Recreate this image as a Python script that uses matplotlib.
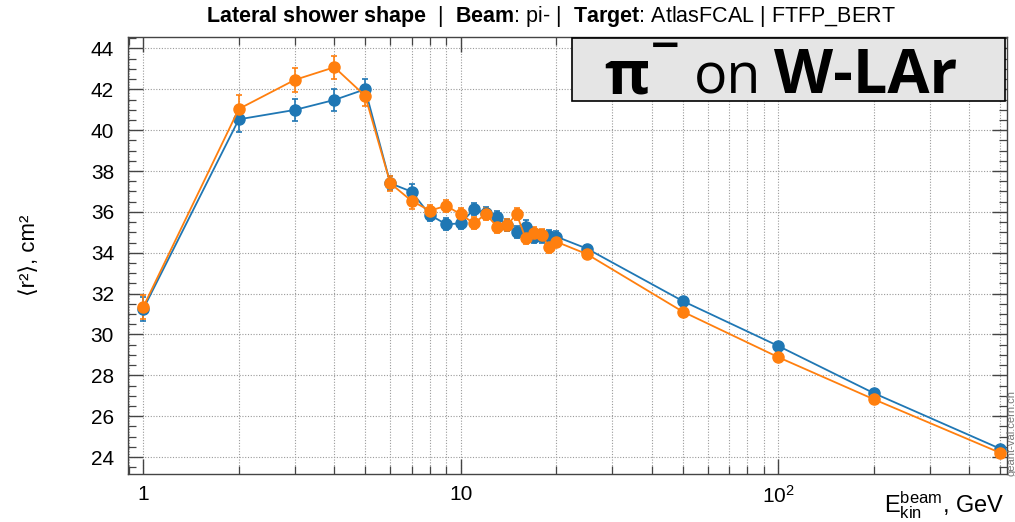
import numpy as np
import matplotlib.pyplot as plt
from matplotlib.ticker import FixedLocator, MultipleLocator, LogLocator, NullFormatter

plt.rcParams['font.family'] = ['Liberation Sans', 'DejaVu Sans']
plt.rcParams['mathtext.fontset'] = 'custom'
plt.rcParams['mathtext.rm'] = 'Liberation Sans'
plt.rcParams['mathtext.bf'] = 'Liberation Sans:bold'
plt.rcParams['mathtext.it'] = 'Liberation Sans:italic'

# beam kinetic energy, GeV
energy = [1, 2, 3, 4, 5, 6, 7, 8, 9, 10, 11, 12, 13, 14, 15, 16, 17, 18, 19, 20,
          25, 50, 100, 200, 500]

# <r^2> in cm^2, two model versions
r2_blue = [31.25, 40.53, 40.99, 41.48, 42.00, 37.40, 36.99, 35.85, 35.39, 35.44,
           36.13, 35.95, 35.74, 35.35, 35.03, 35.28, 34.79, 34.80, 34.82, 34.79,
           34.20, 31.64, 29.44, 27.13, 24.41]
err_blue = [0.6, 0.6, 0.55, 0.52, 0.5, 0.35, 0.36, 0.3, 0.3, 0.3,
            0.3, 0.3, 0.3, 0.3, 0.3, 0.3, 0.3, 0.3, 0.3, 0.25,
            0.2, 0.08, 0.06, 0.05, 0.05]

r2_orange = [31.35, 41.04, 42.46, 43.08, 41.68, 37.40, 36.54, 36.06, 36.30, 35.88,
             35.44, 35.90, 35.28, 35.35, 35.90, 34.71, 34.95, 34.87, 34.27, 34.54,
             33.93, 31.12, 28.89, 26.83, 24.21]
err_orange = [0.6, 0.68, 0.57, 0.56, 0.52, 0.36, 0.39, 0.3, 0.3, 0.3,
              0.3, 0.3, 0.3, 0.3, 0.3, 0.3, 0.3, 0.3, 0.3, 0.25,
              0.2, 0.08, 0.06, 0.05, 0.05]

W, H = 1015, 522
L, R, T, B = 128, 1007, 37, 474

fig = plt.figure(figsize=(W / 100, H / 100), dpi=100)
ax = fig.add_axes([L / W, (H - B) / H, (R - L) / W, (B - T) / H])


def frac(x, y):
    # pixel position in the frame -> axes fraction
    return (x - L) / (R - L), (B - y) / (B - T)


for y, e, c in [(r2_blue, err_blue, '#1f77b4'), (r2_orange, err_orange, '#ff7f0e')]:
    ax.errorbar(energy, y, yerr=e, color=c, marker='o', ms=8, lw=1.3,
                elinewidth=1.2, capsize=2.5, capthick=1.2, zorder=3)

ax.set_xscale('log')
ax.set_xlim(0.895, 526)
ax.set_ylim(23.17, 44.56)

ax.xaxis.set_major_locator(FixedLocator([1, 10, 100]))
ax.set_xticklabels(['1', '10', r'$\mathrm{10^{2}}$'])
ax.xaxis.set_minor_locator(LogLocator(base=10, subs=np.arange(2, 10)))
ax.xaxis.set_minor_formatter(NullFormatter())
ax.yaxis.set_major_locator(MultipleLocator(2))
ax.yaxis.set_minor_locator(MultipleLocator(0.5))

ax.tick_params(which='both', direction='in', top=True, right=True,
               color='#444444', labelsize=15)
ax.tick_params(which='major', length=11, width=1)
ax.tick_params(which='minor', length=5.5, width=0.9)
ax.tick_params(axis='y', pad=10)
ax.tick_params(axis='x', pad=8)
for sp in ax.spines.values():
    sp.set_color('#444444')
    sp.set_linewidth(1.0)

ax.grid(which='major', ls=(0, (1, 1.5)), color='#9a9a9a', lw=0.8)
ax.grid(which='minor', axis='x', ls=(0, (1, 1.5)), color='#9a9a9a', lw=0.8)
ax.set_axisbelow(True)

ax.set_ylabel('⟨r²⟩, cm²', fontsize=16)
ax.yaxis.set_label_coords(-0.1, 0.5)
ax.set_xlabel(r'$\mathrm{E^{beam}_{kin}}$, GeV', fontsize=17, loc='right')
ax.xaxis.set_label_coords(0.997, -0.036)

fig.text(0.543, 0.968,
         r'$\mathbf{Lateral\ shower\ shape}$  |  $\mathbf{Beam}$: pi- |  '
         r'$\mathbf{Target}$: AtlasFCAL | FTFP_BERT',
         ha='center', va='center', fontsize=15.5)

# label box in the upper right corner
x0, y0 = frac(572, 101)
x1, y1 = frac(1005, 37.5)
ax.add_patch(plt.Rectangle((x0, y0), x1 - x0, y1 - y0, transform=ax.transAxes,
                           fc='#e5e5e5', ec='black', lw=1.2, zorder=5,
                           clip_on=False))
box_parts = [
    ('π', 604, 93, 44, 'bold', 'Open Sans'),
    ('−', 649, 57, 28, 'bold', 'DejaVu Sans'),
    ('on', 694, 93, 40, 'normal', 'Open Sans'),
    ('W-LAr', 774, 93, 44, 'bold', 'Open Sans'),
]
for s, px, py, size, weight, family in box_parts:
    ax.text(*frac(px, py), s, transform=ax.transAxes, ha='left', va='baseline',
            fontsize=size, fontweight=weight, family=family, zorder=6)

fig.text(0.997, 0.17, 'geant-val.cern.ch', rotation=90, fontsize=8,
         color='#777777', ha='center', va='center')

fig.savefig('out.png', dpi=100)
